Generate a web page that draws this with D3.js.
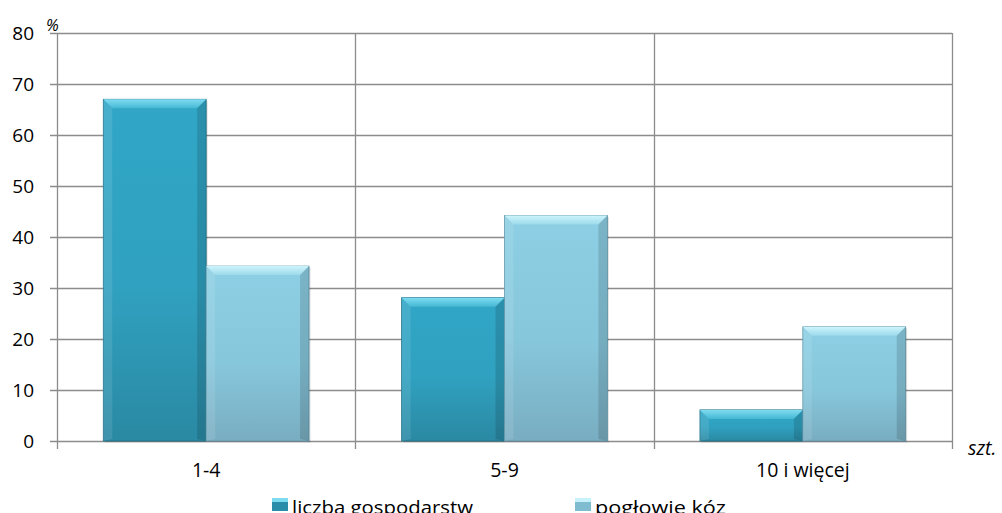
<!DOCTYPE html>
<html><head><meta charset="utf-8">
<script src="https://cdn.jsdelivr.net/npm/d3@7"></script>
<style>
html,body{margin:0;padding:0;background:#fff;overflow:hidden}
svg{display:block;font-family:"Open Sans",sans-serif}
</style></head>
<body>
<script>
const categories = ["1-4", "5-9", "10 i więcej"];
const seriesNames = ["liczba gospodarstw", "pogłowie kóz"];
const liczbaGospodarstw = [67.0, 28.1, 6.1];
const poglowieKoz = [34.3, 44.2, 22.4];
const yTicks = [0, 10, 20, 30, 40, 50, 60, 70, 80];

const W = 1002, H = 513;
const m = {left: 57, right: 50, top: 33, bottom: 72};
const svg = d3.select("body").append("svg").attr("width", W).attr("height", H);

const defs = svg.append("defs");
function grad(id, stops, vertical) {
  const g = defs.append("linearGradient").attr("id", id)
    .attr("x1", 0).attr("y1", 0).attr("x2", vertical ? 0 : 1).attr("y2", vertical ? 1 : 0);
  stops.forEach(s => g.append("stop").attr("offset", s[0]).attr("stop-color", s[1]));
}
grad("gDark", [[0, "#31a6c6"], [0.55, "#30a1c0"], [1, "#2a89a3"]], true);
grad("gLight", [[0, "#8dcfe4"], [0.55, "#87c7dc"], [1, "#79adc1"]], true);
grad("gDarkTop", [[0, "#7fdcf0"], [1, "#45b8d4"]], true);
grad("gLightTop", [[0, "#cdf4fc"], [1, "#9cdaeb"]], true);

const x0 = d3.scaleBand().domain(categories).range([m.left, W - m.right]).paddingInner(0).paddingOuter(0);
const x1 = d3.scaleBand().domain(seriesNames).range([0, x0.bandwidth()]).paddingInner(0).paddingOuter(0.45);
const y = d3.scaleLinear().domain([0, 80]).range([H - m.bottom, m.top]);

svg.append("g").selectAll("line").data(yTicks).join("line")
  .attr("x1", m.left - 7).attr("x2", W - m.right)
  .attr("y1", d => Math.round(y(d)) + 0.5).attr("y2", d => Math.round(y(d)) + 0.5)
  .attr("stroke", "#8c8c8c").attr("stroke-width", 1.3);

const vx = [m.left, ...categories.map(c => x0(c) + x0.bandwidth())];
svg.append("g").selectAll("line").data(vx).join("line")
  .attr("x1", d => Math.round(d) + 0.5).attr("x2", d => Math.round(d) + 0.5)
  .attr("y1", m.top).attr("y2", H - m.bottom + 8)
  .attr("stroke", "#8c8c8c").attr("stroke-width", 1.3);

svg.append("g").selectAll("text").data(yTicks).join("text")
  .attr("x", 34).attr("y", d => y(d) + 7).attr("text-anchor", "end")
  .attr("font-size", 19).attr("fill", "#000").text(d => d);

svg.append("text").attr("x", 46).attr("y", 31).attr("font-size", 16).attr("font-style", "italic").text("%");
svg.append("text").attr("x", 968).attr("y", 455).attr("font-size", 19.5).attr("font-style", "italic").text("szt.");

const data = [liczbaGospodarstw, poglowieKoz];
const fills = [["url(#gDark)", "url(#gDarkTop)", "#1f6f86"], ["url(#gLight)", "url(#gLightTop)", "#5f95a8"]];
data.forEach((vals, si) => {
  const g = svg.append("g");
  vals.forEach((v, ci) => {
    const bx = x0(categories[ci]) + x1(seriesNames[si]);
    const bw = x1.bandwidth();
    const by = y(v), bh = y(0) - y(v);
    g.append("rect").attr("x", bx + 1.5).attr("y", by + 1.5).attr("width", bw).attr("height", bh)
      .attr("fill", "#000").attr("opacity", 0.12);
    g.append("rect").attr("x", bx).attr("y", by).attr("width", bw).attr("height", bh)
      .attr("fill", fills[si][0]).attr("stroke", fills[si][2]).attr("stroke-width", 0.8);
    const bev = Math.min(9, bh / 2);
    g.append("path").attr("d", `M${bx},${by}L${bx + bw},${by}L${bx + bw - bev},${by + bev}L${bx + bev},${by + bev}Z`)
      .attr("fill", fills[si][1]);
    g.append("path").attr("d", `M${bx},${by}L${bx + bev},${by + bev}L${bx + bev},${by + bh - 2}L${bx},${by + bh}Z`)
      .attr("fill", "#fff").attr("opacity", 0.1);
    g.append("path").attr("d", `M${bx + bw},${by}L${bx + bw - bev},${by + bev}L${bx + bw - bev},${by + bh - 2}L${bx + bw},${by + bh}Z`)
      .attr("fill", "#000").attr("opacity", 0.13);
  });
});

svg.append("g").selectAll("text").data(categories).join("text")
  .attr("x", d => x0(d) + x0.bandwidth() / 2).attr("y", 477).attr("text-anchor", "middle")
  .attr("font-size", 19.5).text(d => d);

const legX = [272, 575];
const legW = [181, 131];
const legFill = ["#2a8eab", "#80bccf"];
const legTop = ["#7ddcf0", "#c8f2fb"];
seriesNames.forEach((n, i) => {
  svg.append("rect").attr("x", legX[i]).attr("y", 498).attr("width", 16).attr("height", 13).attr("fill", legFill[i]);
  svg.append("rect").attr("x", legX[i]).attr("y", 498).attr("width", 16).attr("height", 4).attr("fill", legTop[i]);
  svg.append("text").attr("x", legX[i] + 20).attr("y", 514).attr("font-size", 19)
    .attr("textLength", legW[i]).attr("lengthAdjust", "spacingAndGlyphs").text(n);
});
</script>
</body></html>
